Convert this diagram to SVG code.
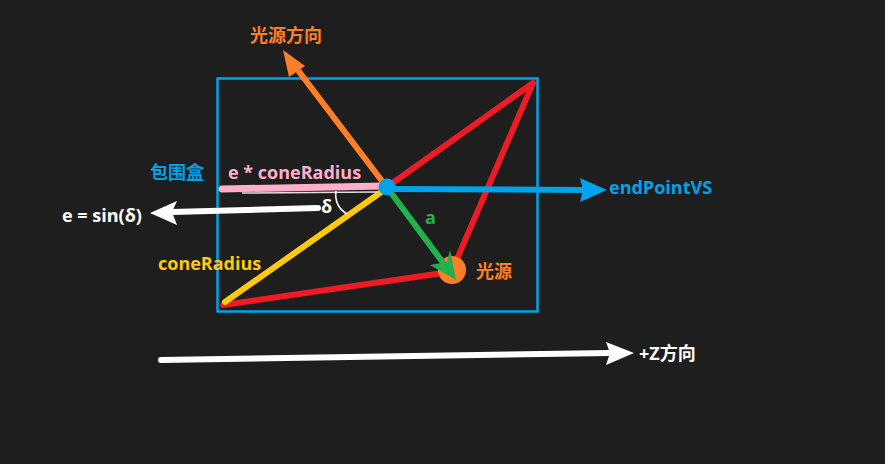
<svg xmlns="http://www.w3.org/2000/svg" width="885" height="464" viewBox="0 0 885 464">
<style>
text{font-family:"Open Sans","Noto Sans CJK SC",sans-serif;font-weight:bold;font-size:18px}
.ln{fill:none;stroke-linecap:round}
</style>
<rect width="885" height="464" fill="#1e1e1e"/>
<g id="bbox"><rect x="217.5" y="78.5" width="320" height="233" fill="none" stroke="#00a2e8" stroke-width="2.5"/></g>
<g id="connectors">
<polyline class="ln" points="387,187 533,83 454,266" stroke="#ed1c24" stroke-width="6" stroke-linejoin="round"/>
<line class="ln" x1="223" y1="305" x2="450" y2="272" stroke="#ed1c24" stroke-width="6"/>
<line class="ln" x1="385" y1="185" x2="294" y2="65" stroke="#ff7f27" stroke-width="6"/>
<polygon points="283,50 305,66 289,77" fill="#ff7f27"/>
<line class="ln" x1="387" y1="188" x2="225" y2="302" stroke="#ffc90e" stroke-width="6"/>
<line x1="242" y1="193" x2="377" y2="192" stroke="#e0e0e0" stroke-width="1.5"/>
<line class="ln" x1="222" y1="189" x2="384" y2="186" stroke="#ffaec9" stroke-width="7"/>
<line x1="390" y1="189" x2="585" y2="190" stroke="#00a2e8" stroke-width="6"/>
<polygon points="607,190 580,178 583,190 580,202" fill="#00a2e8"/>
<circle cx="452" cy="270" r="14" fill="#ff7f27"/>
<line class="ln" x1="389" y1="190" x2="444" y2="264" stroke="#22b14c" stroke-width="6"/>
<polygon points="456,280 430,265 447,262 450,250" fill="#22b14c"/>
<circle cx="387" cy="187" r="8.5" fill="#00a2e8"/>
<line class="ln" x1="318" y1="208" x2="172" y2="212" stroke="#ffffff" stroke-width="6"/>
<polygon points="150,213 177,201 172,212 177,225" fill="#ffffff"/>
<path d="M336,191 Q334,206 347,214" fill="none" stroke="#ffffff" stroke-width="1.5"/>
<line class="ln" x1="161" y1="360" x2="610" y2="353" stroke="#ffffff" stroke-width="6"/>
<polygon points="634,353 606,342 610,353 606,365" fill="#ffffff"/>
</g>
<g id="labels">
<text x="250" y="42" fill="#ff7f27">光源方向</text>
<text x="150" y="179" fill="#00a2e8">包围盒</text>
<text x="228" y="179" fill="#ffaec9">e * coneRadius</text>
<text x="609" y="194" fill="#00a2e8">endPointVS</text>
<text x="62" y="222" fill="#ffffff">e = sin(δ)</text>
<text x="321" y="213" fill="#ffffff">δ</text>
<text x="425" y="224" fill="#22b14c">a</text>
<text x="158" y="270" fill="#ffc90e">coneRadius</text>
<text x="476" y="278" fill="#ff7f27">光源</text>
<text x="639" y="360" fill="#ffffff">+Z方向</text>
</g>
</svg>
